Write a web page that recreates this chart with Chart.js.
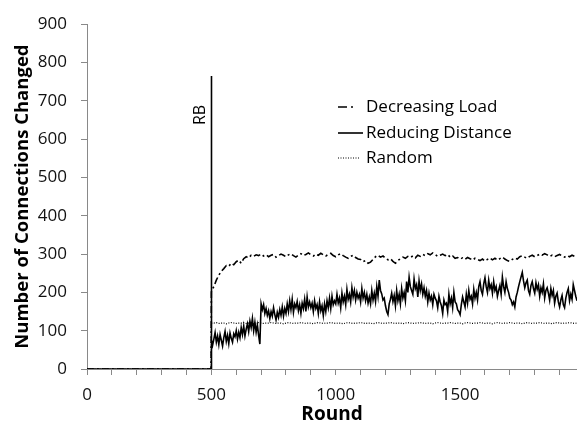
<!DOCTYPE html>
<html>
<head>
<meta charset="utf-8">
<script src="https://cdn.jsdelivr.net/npm/chart.js@4.4.1/dist/chart.umd.min.js"></script>
<style>
html,body{margin:0;padding:0;background:#fff;}
#wrap{width:577px;height:427px;position:relative;}
</style>
</head>
<body>
<div id="wrap"><canvas id="c"></canvas></div>
<script>
// ---- data ----
// rounds sampled every 10 (Decreasing Load, Random)
const rounds10 = [0, 499, 500, 501,
 510,520,530,540,550,560,570,580,590,600,
 610,620,630,640,650,660,670,680,690,700,
 710,720,730,740,750,760,770,780,790,800,
 810,820,830,840,850,860,870,880,890,900,
 910,920,930,940,950,960,970,980,990,1000,
 1010,1020,1030,1040,1050,1060,1070,1080,1090,1100,
 1110,1120,1130,1140,1150,1160,1170,1180,1190,1200,
 1210,1220,1230,1240,1250,1260,1270,1280,1290,1300,
 1310,1320,1330,1340,1350,1360,1370,1380,1390,1400,
 1410,1420,1430,1440,1450,1460,1470,1480,1490,1500,
 1510,1520,1530,1540,1550,1560,1570,1580,1590,1600,
 1610,1620,1630,1640,1650,1660,1670,1680,1690,1700,
 1710,1720,1730,1740,1750,1760,1770,1780,1790,1800,
 1810,1820,1830,1840,1850,1860,1870,1880,1890,1900,
 1910,1920,1930,1940,1950,1960,1970];

// rounds sampled every 5 (Reducing Distance)
const rounds5 = [0, 499, 500, 501,
 505,510,515,520,525,530,535,540,545,550,555,560,565,570,575,580,585,590,595,600,
 605,610,615,620,625,630,635,640,645,650,655,660,665,670,675,680,685,690,695,700,
 705,710,715,720,725,730,735,740,745,750,755,760,765,770,775,780,785,790,795,800,
 805,810,815,820,825,830,835,840,845,850,855,860,865,870,875,880,885,890,895,900,
 905,910,915,920,925,930,935,940,945,950,955,960,965,970,975,980,985,990,995,1000,
 1005,1010,1015,1020,1025,1030,1035,1040,1045,1050,1055,1060,1065,1070,1075,1080,1085,1090,1095,1100,
 1105,1110,1115,1120,1125,1130,1135,1140,1145,1150,1155,1160,1165,1170,1175,1180,1185,1190,1195,1200,
 1205,1210,1215,1220,1225,1230,1235,1240,1245,1250,1255,1260,1265,1270,1275,1280,1285,1290,1295,1300,
 1305,1310,1315,1320,1325,1330,1335,1340,1345,1350,1355,1360,1365,1370,1375,1380,1385,1390,1395,1400,
 1405,1410,1415,1420,1425,1430,1435,1440,1445,1450,1455,1460,1465,1470,1475,1480,1485,1490,1495,1500,
 1505,1510,1515,1520,1525,1530,1535,1540,1545,1550,1555,1560,1565,1570,1575,1580,1585,1590,1595,1600,
 1605,1610,1615,1620,1625,1630,1635,1640,1645,1650,1655,1660,1665,1670,1675,1680,1685,1690,1695,1700,
 1705,1710,1715,1720,1725,1730,1735,1740,1745,1750,1755,1760,1765,1770,1775,1780,1785,1790,1795,1800,
 1805,1810,1815,1820,1825,1830,1835,1840,1845,1850,1855,1860,1865,1870,1875,1880,1885,1890,1895,1900,
 1905,1910,1915,1920,1925,1930,1935,1940,1945,1950,1955,1960,1965,1970];

const decreasingLoad = [0, 0, 200, 205,
 215,232,245,255,262,270,268,276,272,280,
 284,276,288,293,290,297,294,298,296,300,
 295,298,293,297,299,292,296,300,297,293,
 298,301,296,292,297,301,296,299,303,298,
 295,300,297,302,298,295,299,302,296,293,
 298,301,296,292,289,294,297,291,287,286,
 280,283,276,279,286,293,297,292,295,289,
 285,288,281,276,283,288,292,289,294,291,
 295,290,297,294,299,296,301,298,303,299,
 294,297,300,296,299,292,295,289,291,287,
 290,286,291,288,284,289,286,283,287,282,
 286,290,285,289,284,288,292,287,283,281,
 286,290,287,293,296,292,289,294,297,293,
 296,300,297,301,298,294,297,293,296,299,
 295,292,296,293,297,294,295];

const reducingDistance = [0, 0, 765, 75,
 62,78,95,70,86,64,90,75,60,82,98,72,88,66,94,80,70,92,84,100,
 78,96,82,108,90,112,86,104,118,98,125,108,132,100,122,96,115,88,65,170,
 155,168,145,158,140,152,132,150,138,160,142,128,148,135,155,140,162,138,158,145,
 170,150,178,155,182,148,170,160,176,152,168,145,172,158,182,150,188,162,175,160,
 172,150,178,158,168,145,175,152,165,140,170,150,178,160,185,158,190,168,178,170,
 195,172,185,160,198,175,190,168,208,182,195,175,212,188,205,180,200,185,195,175,
 210,185,200,178,195,172,188,170,205,180,198,176,215,190,232,205,196,180,185,165,
 150,142,170,182,198,176,192,165,205,178,195,170,210,185,200,178,228,200,240,215,
 205,195,235,210,220,188,230,205,222,195,212,190,205,175,198,180,190,168,195,185,
 178,160,190,175,165,145,180,168,172,150,195,170,185,160,200,175,170,155,150,142,
 168,188,175,162,195,172,205,182,190,170,208,185,200,180,215,228,205,195,222,238,
 215,200,232,210,220,198,228,205,215,190,205,218,195,240,215,200,228,210,200,185,
 180,168,175,162,188,200,215,228,240,252,230,212,225,232,205,195,218,228,210,198,
 225,208,220,190,212,200,222,185,205,212,198,180,210,192,205,172,190,198,175,162,
 180,192,168,160,185,200,210,178,195,182,220,205,190,178];

const randomSel = [0, 0, 120, 120,
 120,121,119,120,120,118,120,121,120,119,
 120,120,121,119,120,120,118,120,121,120,
 119,120,120,121,120,119,120,120,118,120,
 121,120,119,120,120,121,120,119,120,120,
 118,120,121,120,119,120,120,121,120,119,
 120,120,118,120,121,120,119,120,120,121,
 120,119,120,120,118,120,121,120,119,120,
 120,121,120,119,120,120,118,120,121,120,
 119,120,120,121,120,119,120,120,118,120,
 121,120,119,120,120,121,120,119,120,120,
 118,120,121,120,119,120,120,121,120,119,
 120,120,118,120,121,120,119,120,120,121,
 120,119,120,120,118,120,121,120,119,120,
 120,121,120,119,120,120,118,120,121,120,
 119,120,120,121,120,119,120];

const seriesLabels = ['Decreasing Load', 'Reducing Distance', 'Random'];
const xLabelTicks = [0, 500, 1000, 1500];
const yTitle = 'Number of Connections Changed';
const xTitle = 'Round';
const markerText = 'RB';

const FONT = "'Open Sans', 'Noto Sans', sans-serif";
const pts = (xs, vals) => xs.map((r, i) => ({x: r, y: vals[i]}));

const legendPlugin = {
  id: 'insideLegend',
  afterDatasetsDraw(chart) {
    const ctx = chart.ctx;
    const x0 = 338, tx = 366;
    const ys = [107, 133, 158];
    chart.data.datasets.forEach((ds, i) => {
      ctx.save();
      ctx.strokeStyle = ds.borderColor;
      ctx.lineWidth = ds.borderWidth;
      ctx.setLineDash(ds.legendDash || ds.borderDash || []);
      ctx.beginPath();
      ctx.moveTo(x0, ys[i]);
      ctx.lineTo(ds.legendEnd || 363, ys[i]);
      ctx.stroke();
      ctx.setLineDash([]);
      ctx.fillStyle = '#000';
      ctx.font = "17px " + FONT;
      ctx.textBaseline = 'middle';
      ctx.textAlign = 'left';
      ctx.fillText(ds.label, tx, ys[i]);
      ctx.restore();
    });
    // RB marker text
    ctx.save();
    ctx.translate(200, 115);
    ctx.rotate(-Math.PI / 2);
    ctx.fillStyle = '#000';
    ctx.font = "16px " + FONT;
    ctx.textAlign = 'center';
    ctx.textBaseline = 'middle';
    ctx.fillText(markerText, 0, 0);
    ctx.restore();
  }
};

new Chart(document.getElementById('c'), {
  type: 'line',
  data: {
    datasets: [
      {label: seriesLabels[0], data: pts(rounds10, decreasingLoad), borderColor: '#000', borderWidth: 1.6,
       borderDash: [7, 3, 2, 3], legendDash: [9, 4, 2, 10], legendEnd: 363},
      {label: seriesLabels[1], data: pts(rounds5, reducingDistance), borderColor: '#000', borderWidth: 1.6},
      {label: seriesLabels[2], data: pts(rounds10, randomSel), borderColor: '#000', borderWidth: 1.2,
       borderDash: [1, 1.5], legendEnd: 360}
    ]
  },
  options: {
    responsive: true,
    maintainAspectRatio: false,
    animation: false,
    layout: {padding: {top: 15, right: 0, left: 0, bottom: 0}},
    elements: {point: {radius: 0}, line: {tension: 0}},
    plugins: {legend: {display: false}, tooltip: {enabled: false}},
    scales: {
      x: {
        type: 'linear', min: 0, max: 1970,
        afterFit(s) { s.height = 58; },
        border: {display: true, color: '#898989', width: 1},
        grid: {display: true, drawOnChartArea: false, drawTicks: true, tickLength: 6, color: '#898989'},
        ticks: {
          stepSize: 100, includeBounds: false, autoSkip: false, maxRotation: 0,
          padding: 10, color: '#111',
          font: {family: FONT, size: 17},
          callback: (v) => xLabelTicks.includes(v) ? String(v) : ''
        },
        title: {display: true, text: xTitle, color: '#000',
          font: {family: FONT, size: 19, weight: 'bold'}, padding: {top: 0, bottom: 1}}
      },
      y: {
        min: 0, max: 900,
        afterFit(s) { s.width = 87; },
        border: {display: true, color: '#898989', width: 1},
        grid: {display: true, drawOnChartArea: false, drawTicks: true, tickLength: 6, color: '#898989'},
        ticks: {stepSize: 100, padding: 14, color: '#111', font: {family: FONT, size: 17}},
        title: {display: true, text: yTitle, color: '#000',
          font: {family: FONT, size: 18.5, weight: 'bold'}, padding: {top: 12, bottom: 0}}
      }
    }
  },
  plugins: [legendPlugin]
});
</script>
</body>
</html>
